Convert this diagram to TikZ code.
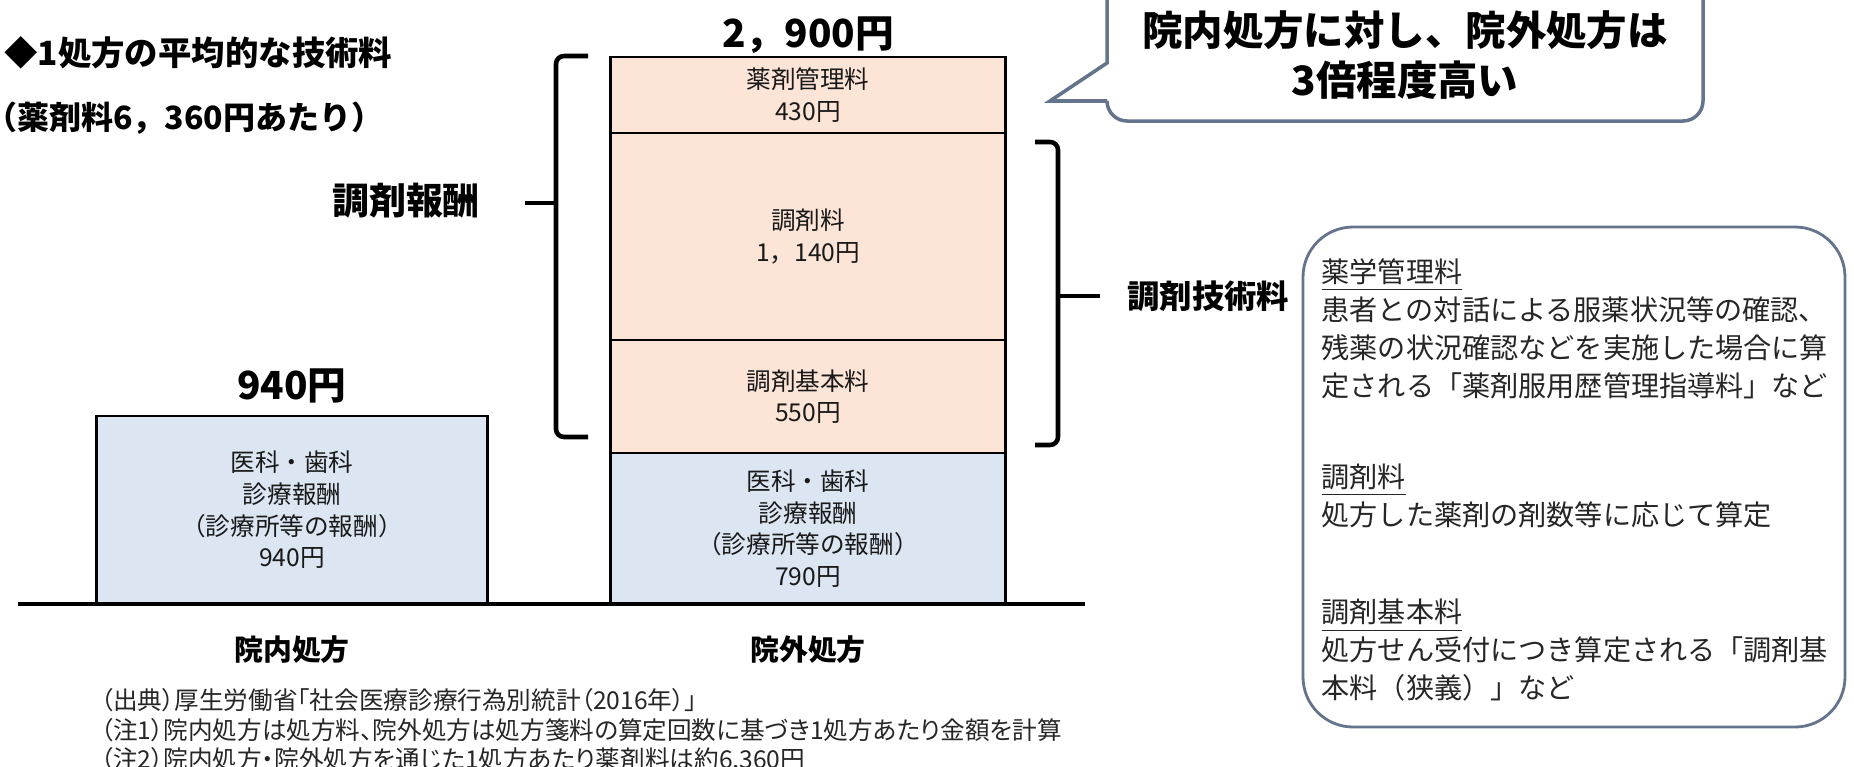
\documentclass[tikz,border=0pt]{standalone}
\usepackage{fontspec}
\setmainfont{Noto Sans CJK JP}
\newfontfamily\propfont[RawFeature=+palt]{Noto Sans CJK JP}
\usepackage{xcolor}
\definecolor{peach}{RGB}{252, 228, 214}
\definecolor{paleblue}{RGB}{220, 230, 242}
\definecolor{boxgray}{RGB}{100, 116, 140}

\begin{document}
\begin{tikzpicture}[x=0.01cm, y=-0.01cm,
    seg/.style={draw, line width=0.8pt, inner sep=0pt, align=center,
      minimum width=3.94cm, font=\fontsize{7}{9}\selectfont, text=black!90},
    total/.style={font=\bfseries\fontsize{11}{13}\selectfont},
    bigtext/.style={font=\bfseries\fontsize{9.5}{12}\selectfont},
    bracket/.style={line width=1.3pt, rounded corners=0.08cm},
    boxline/.style={draw=boxgray, line width=0.8pt, fill=white}]
    \useasboundingbox (0,0) rectangle (1854,766);

    % Title
    \node[bigtext, anchor=west] (title) at (-8,53) {◆1処方の平均的な技術料};
    \node[bigtext, font=\bfseries\fontsize{9.1}{12}\selectfont, anchor=west] (basis) at (-27,118)
      {（薬剤料6，360円あたり）};

    % In-hospital bar
    \node[seg, fill=paleblue, minimum width=3.90cm, minimum height=1.88cm] (inmed) at (292,510)
      {医科・歯科\\診療報酬\\（診療所等の報酬）\\940円};
    \node[total] (intotal) at (292,386) {940円};

    % Out-of-hospital bar
    \node[seg, fill=peach, minimum height=0.76cm] (kanri) at (808,95) {薬剤管理料\\430円};
    \node[seg, fill=peach, minimum height=2.07cm] (chozai) at (808,236.5) {調剤料\\1，140円};
    \node[seg, fill=peach, minimum height=1.13cm] (kihon) at (808,396.5) {調剤基本料\\550円};
    \node[seg, fill=paleblue, minimum height=1.51cm] (outmed) at (808,528.5)
      {医科・歯科\\診療報酬\\（診療所等の報酬）\\790円};
    \node[total] (outtotal) at (808,35) {2，900円};

    % Ground line
    \draw[line width=1.3pt] (18,604) -- (1085,604);
    \node[font=\bfseries\fontsize{8.2}{10}\selectfont] (inlabel) at (292,650) {院内処方};
    \node[font=\bfseries\fontsize{8.2}{10}\selectfont] (outlabel) at (808,650) {院外処方};

    % Left bracket
    \draw[bracket] (588,56) -- (556,56) -- (556,437) -- (588,437);
    \coordinate (ltip) at (556,203);
    \node[font=\bfseries\fontsize{10.5}{12}\selectfont] (hoshu) at (406,201) {調剤報酬};
    \draw[line width=1.3pt] ([xshift=-0.31cm]ltip) -- (ltip);

    % Right bracket
    \draw[bracket] (1035,142) -- (1058,142) -- (1058,445) -- (1035,445);
    \coordinate (rtip) at (1058,296);
    \node[font=\bfseries\fontsize{9.2}{11}\selectfont, anchor=west] (gijutsu) at (1115,296) {調剤技術料};
    \draw[line width=1.3pt] (rtip) -- ([xshift=-0.15cm]gijutsu.west);

    % Callout
    \draw[boxline, line width=1pt] (1107,-30) -- (1107,63) -- (1050,101) -- (1107,101)
      [rounded corners=0.2cm] -- (1107,121) -- (1703,121) -- (1703,-30);
    \node[font=\bfseries\fontsize{11.5}{14}\selectfont, align=center] (callout) at (1405,55)
      {院内処方に対し、院外処方は\\3倍程度高い};

    % Explanation box
    \draw[boxline, rounded corners=0.5cm] (1303,227) rectangle (1845,727);
    \node[anchor=north west, align=left, inner sep=0pt, font=\fontsize{8}{10.8}\selectfont,
      text=black!85] (notes) at (1321,258)
      {\underline{薬学管理料}\\
       患者との対話による服薬状況等の確認、\\
       残薬の状況確認などを実施した場合に算\\
       定される「薬剤服用歴管理指導料」など\\[15pt]
       \underline{調剤料}\\
       処方した薬剤の剤数等に応じて算定\\[17pt]
       \underline{調剤基本料}\\
       処方せん受付につき算定される「調剤基\\
       本料（狭義）」など};

    % Sources and notes
    \node[anchor=north west, align=left, inner sep=0pt, font=\propfont\fontsize{7}{8.4}\selectfont,
      text=black!85] (source) at (100,688)
      {（出典）厚生労働省「社会医療診療行為別統計（2016年）」\\
       （注1）院内処方は処方料、院外処方は処方箋料の算定回数に基づき1処方あたり金額を計算\\
       （注2）院内処方・院外処方を通じた1処方あたり薬剤料は約6,360円};
\end{tikzpicture}
\end{document}
